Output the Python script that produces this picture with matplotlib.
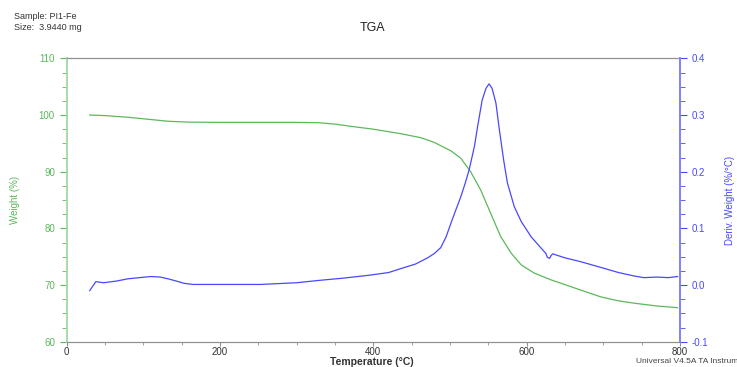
import numpy as np
import matplotlib
matplotlib.use('Agg')
import matplotlib.pyplot as plt
from matplotlib.ticker import MultipleLocator

plt.rcParams['font.family'] = ['Liberation Sans', 'DejaVu Sans']

# TGA weight curve
temp_w = [30, 50, 80, 110, 132, 158, 200, 253, 300, 328, 350, 371, 400, 436, 462,
          479, 501, 514, 527, 540, 553, 566, 580, 593, 610, 632, 658, 675, 697, 720,
          740, 770, 797]
weight = [100.0, 99.9, 99.6, 99.2, 98.9, 98.75, 98.7, 98.7, 98.7, 98.65, 98.4, 98.0,
          97.5, 96.7, 96.0, 95.2, 93.7, 92.4, 90.0, 86.8, 82.7, 78.6, 75.6, 73.55,
          72.1, 70.9, 69.7, 68.9, 67.9, 67.2, 66.8, 66.3, 66.0]

# derivative weight curve
temp_d = [30, 38, 48, 65, 80, 95, 110, 122, 132, 143, 153, 165, 175, 200, 253, 300,
          328, 360, 393, 420, 436, 455, 471, 480, 488, 495, 501, 507, 514, 520, 525,
          528, 532, 536, 542, 547, 551, 555, 560, 564, 570, 575, 584, 593, 606, 619,
          625, 627, 630, 632, 634, 650, 671, 697, 720, 740, 753, 770, 785, 797]
deriv = [-0.010, 0.006, 0.004, 0.007, 0.011, 0.013, 0.015, 0.014, 0.011, 0.007, 0.003,
         0.001, 0.001, 0.001, 0.001, 0.004, 0.008, 0.012, 0.017, 0.022, 0.029, 0.037,
         0.048, 0.056, 0.066, 0.085, 0.108, 0.130, 0.155, 0.180, 0.203, 0.221, 0.245,
         0.279, 0.326, 0.347, 0.355, 0.347, 0.321, 0.279, 0.221, 0.180, 0.138, 0.112,
         0.085, 0.065, 0.056, 0.049, 0.047, 0.052, 0.055, 0.048, 0.041, 0.031, 0.022,
         0.016, 0.013, 0.014, 0.013, 0.015]

green = '#5cb85c'
green_lt = '#a8dca8'
blue = '#4848ff'
blue_lt = '#8080ff'
grey = '#909090'

fig = plt.figure(figsize=(7.37, 3.67), dpi=100)
ax = fig.add_axes([0.0905, 0.069, 0.832, 0.772])
ax2 = ax.twinx()

ax.plot(temp_w, weight, color=green, lw=0.9, solid_joinstyle='round')
ax2.plot(temp_d, deriv, color=blue, lw=0.9, solid_joinstyle='round')

ax.set_xlim(0, 800)
ax.set_ylim(60, 110)
ax2.set_ylim(-0.1, 0.4)

ax.xaxis.set_major_locator(MultipleLocator(200))
ax.xaxis.set_minor_locator(MultipleLocator(50))
ax.yaxis.set_major_locator(MultipleLocator(10))
ax.yaxis.set_minor_locator(MultipleLocator(2.5))
ax2.yaxis.set_major_locator(MultipleLocator(0.1))
ax2.yaxis.set_minor_locator(MultipleLocator(0.025))
ax2.yaxis.set_major_formatter(plt.FuncFormatter(lambda v, p: '%.1f' % v))

for a in (ax, ax2):
    a.spines['top'].set_color(grey)
    a.spines['bottom'].set_color(grey)
    a.spines['left'].set_color(green_lt)
    a.spines['right'].set_color(blue_lt)
    a.spines['left'].set_linewidth(1.2)
    a.spines['right'].set_linewidth(1.2)

ax.tick_params(axis='x', which='both', direction='out', colors=grey, labelcolor='#333333',
               labelsize=7, pad=0.5)
ax.tick_params(axis='x', which='major', length=3)
ax.tick_params(axis='x', which='minor', length=2)
ax.tick_params(axis='y', which='both', direction='out', colors=green, labelcolor=green, labelsize=7)
ax.tick_params(axis='y', which='major', length=5)
ax.tick_params(axis='y', which='minor', length=3.5)
ax2.tick_params(axis='y', which='both', direction='out', colors=blue, labelcolor=blue, labelsize=7)
ax2.tick_params(axis='y', which='major', length=5)
ax2.tick_params(axis='y', which='minor', length=3.5)

fig.text(0.505, 0.014, 'Temperature (°C)', fontsize=7.5, fontweight='bold', color='#333333',
         ha='center', va='center')
fig.text(0.021, 0.455, 'Weight (%)', fontsize=7, color=green, rotation=90, ha='center', va='center')
fig.text(0.991, 0.455, 'Deriv. Weight (%/°C)', fontsize=7, color=blue, rotation=90,
         ha='center', va='center')

fig.text(0.505, 0.925, 'TGA', fontsize=9, ha='center', va='center', color='#222222')
fig.text(0.019, 0.955, 'Sample: PI1-Fe', fontsize=6.5, ha='left', va='center', color='#333333')
fig.text(0.019, 0.926, 'Size:  3.9440 mg', fontsize=6.5, ha='left', va='center', color='#333333')
# footer runs off the right edge, same as in the source image
fig.text(0.863, 0.014, 'Universal V4.5A TA Instruments', fontsize=6, ha='left', va='center',
         color='#444444')

fig.savefig('out.png', dpi=100)
